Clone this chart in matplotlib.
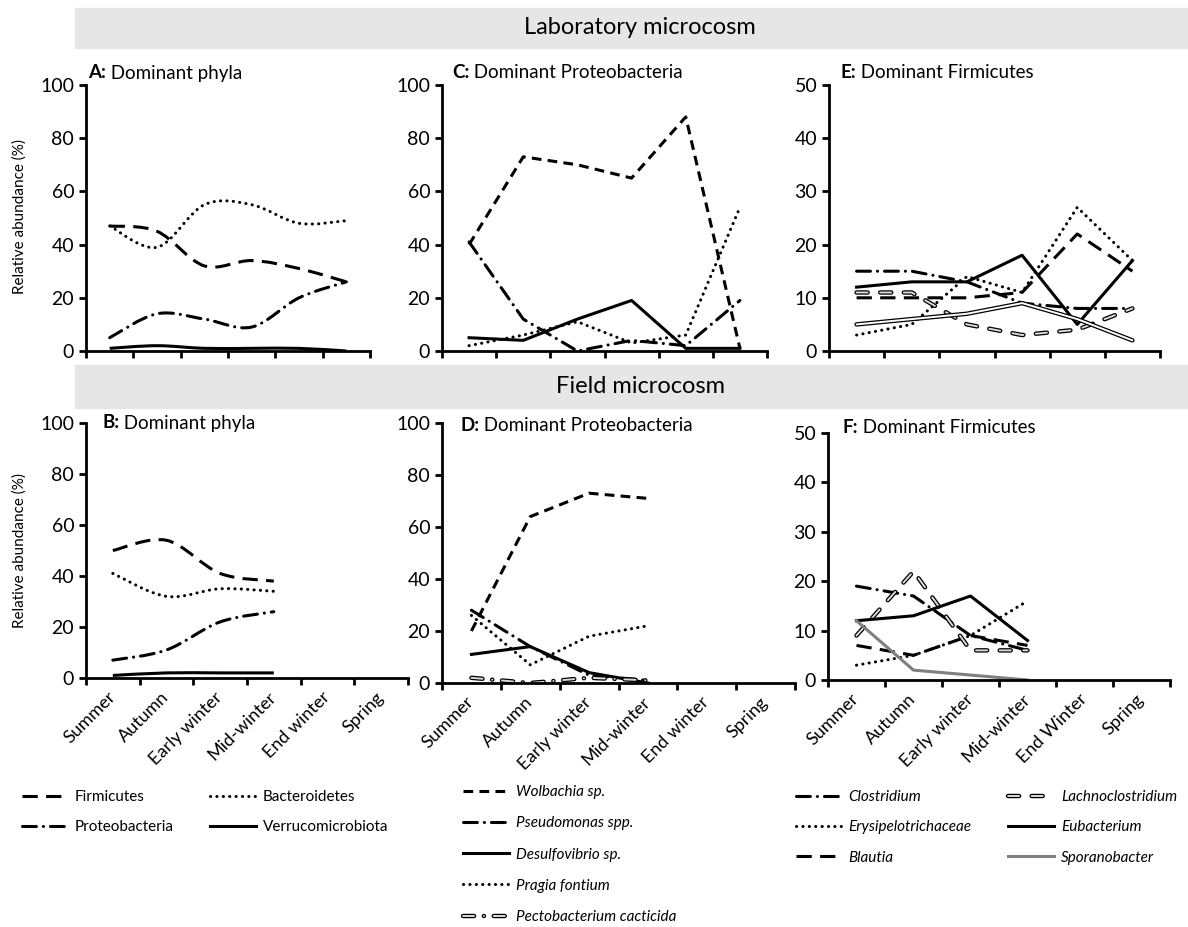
import numpy as np
import matplotlib
matplotlib.use('Agg')
import matplotlib.pyplot as plt
from matplotlib.patches import Rectangle, PathPatch
from matplotlib.path import Path
from matplotlib.lines import Line2D

# =========================
# DATA (relative abundance, %)
# =========================
seasons = ['Summer', 'Autumn', 'Early winter', 'Mid-winter', 'End winter', 'Spring']
seasons_f = ['Summer', 'Autumn', 'Early winter', 'Mid-winter', 'End Winter', 'Spring']

# A: laboratory, dominant phyla
lab_firmicutes = [47, 45, 32, 34, 31, 26]
lab_bacteroidetes = [47, 39, 55, 55, 48, 49]
lab_proteobacteria = [5, 14, 12, 9, 20, 26]
lab_verruco = [1, 2, 1, 1, 1, 0]

# B: field, dominant phyla
field_firmicutes = [50, 54, 41, 38]
field_bacteroidetes = [41, 32, 35, 34]
field_proteobacteria = [7, 11, 22, 26]
field_verruco = [1, 2, 2, 2]

# C: laboratory, Proteobacteria
lab_wolbachia = [40, 73, 70, 65, 88, 1]
lab_pseudomonas = [41, 12, 0, 4, 2, 19]
lab_desulfovibrio = [5, 4, 12, 19, 1, 1]
lab_pragia = [2, 6, 11, 3, 6, 54]

# D: field, Proteobacteria
field_wolbachia = [20, 64, 73, 71]
field_pseudomonas = [28, 14, 3, 1]
field_desulfovibrio = [11, 14, 4, 0]
field_pragia = [26, 7, 18, 22]
field_pectobacterium = [2, 0, 2, 1]

# E: laboratory, Firmicutes
lab_clostridium = [15, 15, 13, 9, 8, 8]
lab_erysipelo = [3, 5, 14, 11, 27, 17]
lab_blautia = [10, 10, 10, 11, 22, 15]
lab_lachno = [11, 11, 5, 3, 4, 8]
lab_eubacterium = [12, 13, 13, 18, 5, 17]
lab_sporano = [5, 6, 7, 9, 6, 2]

# F: field, Firmicutes
field_clostridium = [19, 17, 9, 6]
field_erysipelo = [3, 5, 9, 16]
field_blautia = [7, 5, 9, 7]
field_lachno = [9, 22, 6, 6]
field_eubacterium = [12, 13, 17, 8]
field_sporano = [12, 2, 1, 0]

# =========================
# STYLE
# =========================
W, H = 1188, 927
plt.rcParams['font.family'] = ['Lato', 'DejaVu Sans']
plt.rcParams['lines.scale_dashes'] = False
LW = 2.2

LONG_DASH = dict(color='black', lw=LW, linestyle=(0, (11, 6)), capstyle='butt')
SHORT_DASH = dict(color='black', lw=LW, linestyle=(0, (7, 4.5)), capstyle='butt')
DOT = dict(color='black', lw=LW, linestyle=(0, (0.1, 4.5)), capstyle='round')
DASH_DOT = dict(color='black', lw=LW, linestyle=(0, (10, 5, 0.1, 5)), capstyle='round')
SOLID = dict(color='black', lw=LW, linestyle='-', capstyle='butt')
GREY = dict(color='#7f7f7f', lw=LW, linestyle='-', capstyle='butt')


def rect(x0, y0, x1, y1):
    return [x0 / W, 1 - y1 / H, (x1 - x0) / W, (y1 - y0) / H]


def fx(x):
    return x / W


def fy(y):
    return 1 - y / H


def lkw(style):
    return dict(color=style['color'], lw=style['lw'], linestyle=style['linestyle'],
                dash_capstyle=style['capstyle'])


def line(ax, vals, style):
    x = np.arange(len(vals)) + 0.5
    return ax.plot(x, vals, **lkw(style))[0]


def smooth(ax, vals, style):
    # Excel-like smoothed line (Catmull-Rom as cubic Bezier)
    x = np.arange(len(vals)) + 0.5
    P = np.column_stack([x, np.asarray(vals, float)])
    Q = np.vstack([P[0], P, P[-1]])
    verts, codes = [P[0]], [Path.MOVETO]
    for i in range(len(P) - 1):
        p0, p1, p2, p3 = Q[i], Q[i + 1], Q[i + 2], Q[i + 3]
        verts += [p1 + (p2 - p0) / 6, p2 - (p3 - p1) / 6, p2]
        codes += [Path.CURVE4] * 3
    patch = PathPatch(Path(verts, codes), fill=False, edgecolor=style['color'],
                      lw=style['lw'], linestyle=style['linestyle'],
                      capstyle=style['capstyle'], joinstyle='round')
    ax.add_patch(patch)
    return Line2D([], [], **lkw(style))


def hollow(ax, vals, ls, inner='#d9d9d9'):
    x = np.arange(len(vals)) + 0.5
    outer = ax.plot(x, vals, color='black', lw=3.2, linestyle=ls,
                    dash_capstyle='round', solid_capstyle='round')[0]
    inn = ax.plot(x, vals, color=inner, lw=1.4, linestyle=ls,
                  dash_capstyle='round', solid_capstyle='round')[0]
    return (outer, inn)


def setup(ax, ymax, step, labels=None):
    ax.set_xlim(0, 6)
    ax.set_ylim(0, ymax)
    ax.set_yticks(np.arange(0, ymax + 1, step))
    ax.set_xticks(np.arange(7))
    ax.set_xticklabels([])
    for s in ['top', 'right']:
        ax.spines[s].set_visible(False)
    for s in ['left', 'bottom']:
        ax.spines[s].set_linewidth(2)
    ax.tick_params(axis='both', width=2, length=5, direction='out', labelsize=14)
    if labels is not None:
        ax.set_xticks(np.arange(6) + 0.5, minor=True)
        ax.set_xticklabels(labels, minor=True, rotation=45, ha='right',
                           va='center', rotation_mode='anchor')
        ax.tick_params(axis='x', which='minor', length=0, pad=12, labelsize=13)
    ax.patch.set_alpha(0)


fig = plt.figure(figsize=(11.88, 9.27), dpi=100)

# header bands
for (y0, y1, txt) in [(8, 48, 'Laboratory microcosm'), (365, 408, 'Field microcosm')]:
    fig.patches.append(Rectangle((fx(75), fy(y1)), fx(1188) - fx(75), fy(y0) - fy(y1),
                                 transform=fig.transFigure, color='#e7e6e6', zorder=0))
    fig.text(fx(640), fy((y0 + y1) / 2), txt, fontsize=17, ha='center', va='center')

axA = fig.add_axes(rect(86, 85, 370, 351))
axC = fig.add_axes(rect(442, 85, 767, 351))
axE = fig.add_axes(rect(829, 85, 1160, 351))
axB = fig.add_axes(rect(86, 423, 408, 678))
axD = fig.add_axes(rect(442, 423, 795, 683))
axF = fig.add_axes(rect(828, 433, 1170, 680))

setup(axA, 100, 20)
setup(axC, 100, 20)
setup(axE, 50, 10)
setup(axB, 100, 20, seasons)
setup(axD, 100, 20, seasons)
setup(axF, 50, 10, seasons_f)

# A
smooth(axA, lab_firmicutes, LONG_DASH)
smooth(axA, lab_bacteroidetes, DOT)
smooth(axA, lab_proteobacteria, DASH_DOT)
smooth(axA, lab_verruco, SOLID)

# B
h_firm = smooth(axB, field_firmicutes, LONG_DASH)
h_bact = smooth(axB, field_bacteroidetes, DOT)
h_prot = smooth(axB, field_proteobacteria, DASH_DOT)
h_verr = smooth(axB, field_verruco, SOLID)

# C
line(axC, lab_wolbachia, SHORT_DASH)
line(axC, lab_pseudomonas, DASH_DOT)
line(axC, lab_desulfovibrio, SOLID)
line(axC, lab_pragia, DOT)

# D
h_wol = line(axD, field_wolbachia, SHORT_DASH)
h_pse = line(axD, field_pseudomonas, DASH_DOT)
h_des = line(axD, field_desulfovibrio, SOLID)
h_pra = line(axD, field_pragia, DOT)
h_pec = hollow(axD, field_pectobacterium, (0, (8, 7, 0.1, 7)))

# E
line(axE, lab_clostridium, DASH_DOT)
line(axE, lab_erysipelo, DOT)
line(axE, lab_blautia, LONG_DASH)
hollow(axE, lab_lachno, (0, (8, 9)))
line(axE, lab_eubacterium, SOLID)
hollow(axE, lab_sporano, '-', inner='white')

# F
h_clo = line(axF, field_clostridium, DASH_DOT)
h_ery = line(axF, field_erysipelo, DOT)
h_bla = line(axF, field_blautia, LONG_DASH)
h_lac = hollow(axF, field_lachno, (0, (8, 9)))
h_eub = line(axF, field_eubacterium, SOLID)
h_spo = line(axF, field_sporano, GREY)

# titles
for (x, y, letter, txt) in [(88, 73, 'A:', ' Dominant phyla'),
                            (452, 73, 'C:', ' Dominant Proteobacteria'),
                            (840, 73, 'E:', ' Dominant Firmicutes'),
                            (102, 423, 'B:', ' Dominant phyla'),
                            (460, 425, 'D:', ' Dominant Proteobacteria'),
                            (843, 428, 'F:', ' Dominant Firmicutes')]:
    t = fig.text(fx(x), fy(y), letter, fontsize=13.5, fontweight='bold', va='center')
    axA.annotate(txt, xy=(1, 0.5), xycoords=t, va='center', fontsize=13.5,
                 annotation_clip=False)

# y labels
fig.text(fx(20), fy(216), 'Relative abundance (%)', rotation=90, fontsize=11,
         ha='center', va='center')
fig.text(fx(20), fy(551), 'Relative abundance (%)', rotation=90, fontsize=11,
         ha='center', va='center')

# legends
leg_kw = dict(loc='upper left', frameon=False, handlelength=3.0, handletextpad=0.45,
              borderaxespad=0, borderpad=0)
fig.legend([h_firm, h_prot, h_bact, h_verr],
           ['Firmicutes', 'Proteobacteria', 'Bacteroidetes', 'Verrucomicrobiota'],
           bbox_to_anchor=(fx(22), fy(790)), ncol=2, columnspacing=2.4,
           labelspacing=1.07, prop={'size': 11}, **leg_kw)
fig.legend([h_wol, h_pse, h_des, h_pra, h_pec],
           ['Wolbachia sp.', 'Pseudomonas spp.', 'Desulfovibrio sp.', 'Pragia fontium',
            'Pectobacterium cacticida'],
           bbox_to_anchor=(fx(463), fy(785)), ncol=1, labelspacing=1.13,
           prop={'size': 11, 'style': 'italic'}, **leg_kw)
fig.legend([h_clo, h_ery, h_bla, h_lac, h_eub, h_spo],
           ['Clostridium', 'Erysipelotrichaceae', 'Blautia', 'Lachnoclostridium',
            'Eubacterium', 'Sporanobacter'],
           bbox_to_anchor=(fx(796), fy(790)), ncol=2, columnspacing=2.4,
           labelspacing=1.07, prop={'size': 11, 'style': 'italic'}, **leg_kw)

fig.savefig('out.png', dpi=100)
